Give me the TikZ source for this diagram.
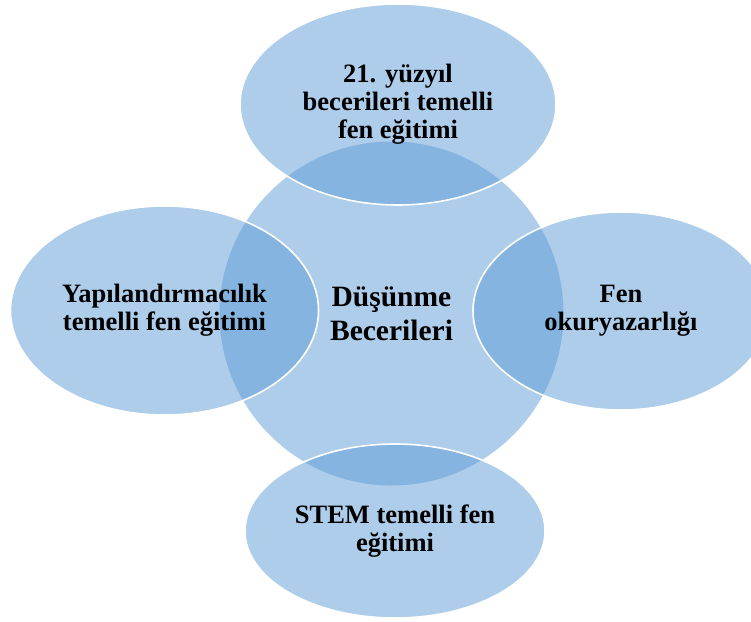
\documentclass[tikz,border=0pt]{standalone}
\usepackage{fontspec}
\setmainfont{Liberation Serif}
\usetikzlibrary{shapes.geometric}
\definecolor{blob}{RGB}{91,155,213}
\tikzset{
  blobshape/.style={ellipse, fill=blob, fill opacity=0.5, text opacity=1, inner sep=0pt, align=center, text=black},
  satellite/.style={blobshape, draw=white, line width=1.6pt, font=\bfseries\fontsize{26.5}{28}\selectfont},
  hub/.style={blobshape, font=\bfseries\fontsize{29.5}{34}\selectfont}
}
\begin{document}
\begin{tikzpicture}[x=1pt,y=-1pt]
\useasboundingbox (0,0) rectangle (751,621);
\node[hub, minimum width=344pt, minimum height=344pt] (hub) at (391.5,313.5) {Düşünme\\Becerileri};
\node[satellite, minimum width=316pt, minimum height=201pt] (top) at (398,104.5) {21. yüzyıl\\becerileri temelli\\fen eğitimi};
\node[satellite, minimum width=308pt, minimum height=209pt] (left) at (164.5,310.5) {Yapılandırmacılık\\temelli fen eğitimi};
\node[satellite, minimum width=296pt, minimum height=198pt] (right) at (621,311) {Fen\\okuryazarlığı};
\node[satellite, minimum width=300pt, minimum height=174pt] (bottom) at (395,531) {STEM temelli fen\\eğitimi};
\end{tikzpicture}
\end{document}
